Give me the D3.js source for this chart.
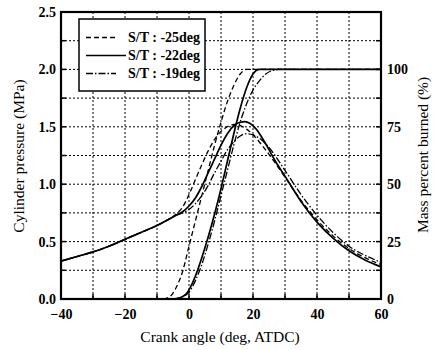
<!DOCTYPE html>
<html><head><meta charset="utf-8">
<script src="https://cdn.jsdelivr.net/npm/d3@7"></script>
<style>body{margin:0;background:#fff}svg{display:block}text{font-family:"Liberation Serif","Times New Roman",serif;fill:#000}</style>
</head><body><svg id="c" width="436" height="350"></svg>
<script>
// ---- data ----
const seriesNames = ["S/T : -25deg", "S/T : -22deg", "S/T : -19deg"];
const xTicks = [-40, -20, 0, 20, 40, 60];
const yTicksLeft = [0.0, 0.5, 1.0, 1.5, 2.0, 2.5];
const yTicksRight = [0, 25, 50, 75, 100];
// compression (shared)
const compAngle = [-40, -35, -30, -25, -20, -15, -10, -6];
const compP = [0.33, 0.37, 0.41, 0.46, 0.52, 0.58, 0.64, 0.70];
// pressure (MPa) after -6 deg
const pAngle25 = [-4, -2, 0, 2, 4, 6, 8, 10, 12, 14, 16, 18, 20, 25, 30, 35, 40, 45, 50, 55, 60];
const p25 = [0.74, 0.80, 0.91, 1.04, 1.17, 1.29, 1.39, 1.46, 1.50, 1.52, 1.51, 1.48, 1.43, 1.26, 1.06, 0.86, 0.69, 0.55, 0.44, 0.36, 0.30];
const pAngle22 = [-4, -2, 0, 2, 4, 6, 8, 10, 12, 14, 16, 17.5, 19, 21, 24, 27, 30, 35, 40, 45, 50, 55, 60];
const p22 = [0.73, 0.76, 0.81, 0.88, 0.98, 1.10, 1.22, 1.34, 1.44, 1.51, 1.54, 1.545, 1.53, 1.48, 1.35, 1.20, 1.07, 0.85, 0.67, 0.53, 0.42, 0.34, 0.28];
const pAngle19 = [-4, -2, 0, 2, 4, 6, 8, 10, 12, 14, 16, 18, 20, 22, 25, 30, 35, 40, 45, 50, 55, 60];
const p19 = [0.73, 0.75, 0.78, 0.83, 0.90, 0.99, 1.10, 1.20, 1.30, 1.37, 1.42, 1.44, 1.43, 1.40, 1.32, 1.12, 0.91, 0.73, 0.58, 0.46, 0.38, 0.32];
// mass percent burned (%)
const mAngle25 = [-8, -6, -4, -2, 0, 2, 4, 6, 8, 10, 12, 14, 16, 18, 60];
const m25 = [0, 1, 5, 12, 23, 34, 45, 56, 67, 77, 86, 93, 98, 100, 100];
const mAngle22 = [-5, -3, -1, 0, 2, 4, 6, 8, 10, 12, 14, 16, 18, 20, 22, 60];
const m22 = [0, 0.5, 2, 4, 10, 18, 27, 37, 48, 60, 72, 83, 92, 98, 100, 100];
const mAngle19 = [-5, -2, 0, 2, 4, 6, 8, 10, 12, 14, 16, 18, 20, 22, 24, 26, 28, 60];
const m19 = [0, 1, 3, 8, 15, 24, 34, 45, 56, 67, 77, 85, 91, 95, 98, 99.5, 100, 100];

// ---- layout ----
const svg = d3.select("#c");
const L = 61, R = 381, T = 12, B = 299;
const x = d3.scaleLinear().domain([-40, 60]).range([L, R]);
const y = d3.scaleLinear().domain([0, 2.5]).range([B, T]);
const y2 = d3.scaleLinear().domain([0, 125]).range([B, T]);

// grid
const g = svg.append("g");
g.selectAll("line.vx").data(d3.range(-30, 60, 10)).join("line")
  .attr("x1", d => x(d)).attr("x2", d => x(d)).attr("y1", T).attr("y2", B)
  .attr("stroke", "#000").attr("stroke-width", 1).attr("stroke-dasharray", "2,2");
g.selectAll("line.hy").data(d3.range(0.25, 2.5, 0.25)).join("line")
  .attr("y1", d => y(d)).attr("y2", d => y(d)).attr("x1", L).attr("x2", R)
  .attr("stroke", "#000").attr("stroke-width", 1).attr("stroke-dasharray", "2,2");

function styleTicks(sel) {
  sel.select(".domain").remove();
  sel.selectAll("text").style("font-size", "14px").style("font-family", "Liberation Serif").style("font-weight", "bold");
}
// axes
svg.append("g").attr("transform", `translate(0,${B})`)
  .call(d3.axisBottom(x).tickValues(xTicks).tickSize(0).tickPadding(10)).call(styleTicks);
svg.append("g").attr("transform", `translate(${L - 3},0)`)
  .call(d3.axisLeft(y).tickValues(yTicksLeft).tickFormat(d3.format(".1f")).tickSize(0).tickPadding(2)).call(styleTicks);
svg.append("g").attr("transform", `translate(${R},0)`)
  .call(d3.axisRight(y2).tickValues(yTicksRight).tickSize(0).tickPadding(6)).call(styleTicks);

// small inward ticks
svg.append("g").selectAll("line").data(d3.range(-30, 60, 10)).join("line")
  .attr("x1", d => x(d)).attr("x2", d => x(d)).attr("y1", B).attr("y2", B - 5)
  .attr("stroke", "#000").attr("stroke-width", 1.5);
svg.append("g").selectAll("line").data(d3.range(0.25, 2.5, 0.25)).join("line")
  .attr("y1", d => y(d)).attr("y2", d => y(d)).attr("x1", L).attr("x2", L + 5)
  .attr("stroke", "#000").attr("stroke-width", 1.5);
svg.append("g").selectAll("line").data(d3.range(0.25, 2.5, 0.25)).join("line")
  .attr("y1", d => y(d)).attr("y2", d => y(d)).attr("x1", R).attr("x2", R - 5)
  .attr("stroke", "#000").attr("stroke-width", 1.5);

// titles
svg.append("text").attr("transform", `translate(24,${156}) rotate(-90)`)
  .attr("text-anchor", "middle").style("font-size", "15.5px").text("Cylinder pressure (MPa)");
svg.append("text").attr("transform", `translate(428,${155}) rotate(-90)`)
  .attr("text-anchor", "middle").style("font-size", "15.5px").text("Mass percent burned (%)");
svg.append("text").attr("x", 220).attr("y", 342)
  .attr("text-anchor", "middle").style("font-size", "15.5px").text("Crank angle (deg, ATDC)");

// curves
const styles = ["5,3", null, "7,2,1.5,2"];
const pData = [[pAngle25, p25], [pAngle22, p22], [pAngle19, p19]];
const mData = [[mAngle25, m25], [mAngle22, m22], [mAngle19, m19]];
const lineP = d3.line().x(d => x(d[0])).y(d => y(d[1])).curve(d3.curveMonotoneX);
const lineM = d3.line().x(d => x(d[0])).y(d => y2(d[1])).curve(d3.curveMonotoneX);
const curves = svg.append("g").attr("fill", "none").attr("stroke", "#000");
pData.forEach((s, i) => {
  const pts = compAngle.map((a, j) => [a, compP[j]]).concat(s[0].map((a, j) => [a, s[1][j]]));
  curves.append("path").attr("d", lineP(pts))
    .attr("stroke-width", i === 1 ? 1.7 : 1.3).attr("stroke-dasharray", styles[i]);
});
mData.forEach((s, i) => {
  const pts = s[0].map((a, j) => [a, s[1][j]]);
  curves.append("path").attr("d", lineM(pts))
    .attr("stroke-width", i === 1 ? 1.7 : 1.3).attr("stroke-dasharray", styles[i]);
});
// frame
svg.append("rect").attr("x", L).attr("y", T).attr("width", R - L).attr("height", B - T)
  .attr("fill", "none").attr("stroke", "#000").attr("stroke-width", 2.2);

// legend
const lg = svg.append("g");
lg.append("rect").attr("x", 79).attr("y", 19).attr("width", 126).attr("height", 72)
  .attr("fill", "#fff").attr("stroke", "#000").attr("stroke-width", 1.5);
const legY = [42, 60, 78];
seriesNames.forEach((n, i) => {
  lg.append("line").attr("x1", 86).attr("x2", i === 1 ? 126 : 116).attr("y1", legY[i] - 4.5).attr("y2", legY[i] - 4.5)
    .attr("stroke", "#000").attr("stroke-width", i === 1 ? 1.7 : 1.3).attr("stroke-dasharray", styles[i]);
  lg.append("text").attr("x", 128).attr("y", legY[i]).style("font-size", "14px").style("font-weight", "bold").text(n);
});
</script></body></html>
